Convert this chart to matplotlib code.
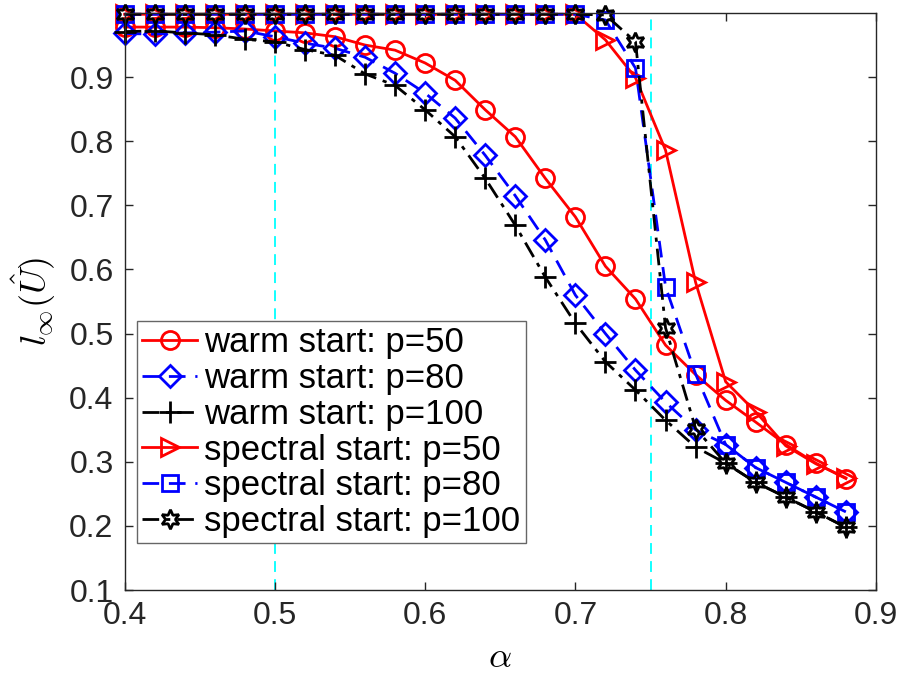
import matplotlib
matplotlib.use("Agg")
import matplotlib.pyplot as plt

plt.rcParams["font.family"] = ["Liberation Sans", "DejaVu Sans"]
plt.rcParams["mathtext.fontset"] = "cm"

alpha = [0.40, 0.42, 0.44, 0.46, 0.48, 0.50, 0.52, 0.54, 0.56, 0.58, 0.60, 0.62, 0.64,
         0.66, 0.68, 0.70, 0.72, 0.74, 0.76, 0.78, 0.80, 0.82, 0.84, 0.86, 0.88]

warm_50 = [0.978, 0.978, 0.978, 0.977, 0.975, 0.972, 0.969, 0.963, 0.950, 0.942, 0.922, 0.895, 0.849,
           0.807, 0.742, 0.682, 0.605, 0.554, 0.482, 0.436, 0.396, 0.362, 0.327, 0.298, 0.274]
warm_80 = [0.968, 0.967, 0.969, 0.970, 0.972, 0.963, 0.953, 0.945, 0.931, 0.906, 0.875, 0.836, 0.778,
           0.715, 0.646, 0.560, 0.500, 0.443, 0.393, 0.350, 0.327, 0.291, 0.268, 0.245, 0.222]
warm_100 = [0.971, 0.972, 0.969, 0.966, 0.959, 0.955, 0.943, 0.934, 0.905, 0.887, 0.849, 0.807, 0.742,
            0.669, 0.588, 0.516, 0.456, 0.412, 0.365, 0.323, 0.298, 0.268, 0.245, 0.222, 0.198]
spectral_50 = [0.998, 0.998, 0.998, 0.998, 0.998, 0.998, 0.998, 0.998, 0.998, 0.998, 0.998, 0.998, 0.998,
               0.998, 0.998, 0.998, 0.958, 0.899, 0.786, 0.580, 0.425, 0.378, 0.325, 0.297, 0.275]
spectral_80 = [0.998, 0.998, 0.998, 0.998, 0.998, 0.998, 0.998, 0.998, 0.998, 0.998, 0.998, 0.998, 0.998,
               0.998, 0.998, 0.998, 0.989, 0.914, 0.573, 0.437, 0.327, 0.291, 0.268, 0.245, 0.222]
spectral_100 = [0.998, 0.998, 0.998, 0.998, 0.998, 0.998, 0.998, 0.998, 0.998, 0.998, 0.998, 0.998, 0.998,
                0.998, 0.998, 0.998, 0.997, 0.955, 0.509, 0.352, 0.298, 0.268, 0.245, 0.222, 0.198]

labels = ["warm start: p=50", "warm start: p=80", "warm start: p=100",
          "spectral start: p=50", "spectral start: p=80", "spectral start: p=100"]

fig = plt.figure(figsize=(9.03, 6.83), dpi=100)
ax = fig.add_axes([0.138, 0.136, 0.832, 0.845])

# threshold markers
ax.axvline(0.5, color="cyan", lw=1.3, ls=(0, (6, 4)), zorder=1)
ax.axvline(0.75, color="cyan", lw=1.3, ls=(0, (6, 4)), zorder=1)

style = dict(lw=2, mfc="none", mew=2, ms=13, clip_on=False)
dashed = (0, (6, 3.5))
dashdot = (0, (6, 2.5, 1.5, 2.5))
ax.plot(alpha, warm_50, color="red", ls="-", marker="o", label=labels[0], **style)
ax.plot(alpha, warm_80, color="blue", ls=dashed, marker="D", label=labels[1],
        **{**style, "ms": 11})
ax.plot(alpha, warm_100, color="black", ls=dashdot, marker="+", label=labels[2],
        **{**style, "ms": 16})
ax.plot(alpha, spectral_50, color="red", ls="-", marker=">", label=labels[3], **style)
ax.plot(alpha, spectral_80, color="blue", ls=dashed, marker="s", label=labels[4],
        **{**style, "ms": 11})
ax.plot(alpha, spectral_100, color="black", ls=dashdot, marker=(6, 1, 0),
        label=labels[5], **{**style, "ms": 14})

ax.set_xlim(0.4, 0.9)
ax.set_ylim(0.1, 1.0)
ax.set_xticks([0.4, 0.5, 0.6, 0.7, 0.8, 0.9])
ax.set_yticks([0.1, 0.2, 0.3, 0.4, 0.5, 0.6, 0.7, 0.8, 0.9])
ax.set_xticklabels(["0.4", "0.5", "0.6", "0.7", "0.8", "0.9"])
ax.set_yticklabels(["0.1", "0.2", "0.3", "0.4", "0.5", "0.6", "0.7", "0.8", "0.9"])
ax.tick_params(direction="in", length=6, width=1, top=True, right=True,
               labelsize=23, colors="0.15", pad=8)
for sp in ax.spines.values():
    sp.set_color("0.15")
    sp.set_linewidth(1)

ax.set_xlabel(r"$\alpha$", fontsize=26, labelpad=6)
ax.set_ylabel(r"$l_\infty(\hat{U})$", fontsize=26, labelpad=8)

leg = ax.legend(loc="lower left", bbox_to_anchor=(0.016, 0.081), fontsize=25,
                fancybox=False, framealpha=1, edgecolor="0.4", borderpad=0.15,
                labelspacing=0.08, handlelength=1.6, handletextpad=0.2, borderaxespad=0)
leg.get_frame().set_linewidth(1)

plt.savefig("out.png", dpi=100)
plt.close()
